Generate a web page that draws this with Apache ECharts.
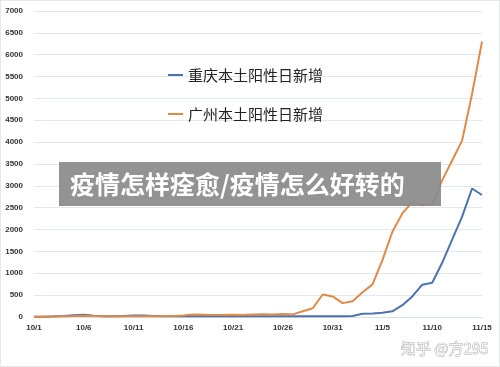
<!DOCTYPE html>
<html>
<head>
<meta charset="utf-8">
<script src="https://cdn.jsdelivr.net/npm/echarts@6/dist/echarts.min.js"></script>
<style>
html,body{margin:0;padding:0;background:#fff;}
#c{width:500px;height:367px;box-sizing:border-box;border:1px solid #e4e8ea;}
</style>
</head>
<body>
<div id="c"></div>
<script>
const categories = (function(){
  const d = [];
  for (let i = 1; i <= 31; i++) d.push('10/' + i);
  for (let i = 1; i <= 15; i++) d.push('11/' + i);
  return d;
})();
const seriesNames = ['重庆本土阳性日新增', '广州本土阳性日新增'];
const chongqing = [5,8,15,25,40,50,30,15,15,25,35,35,25,15,15,15,20,20,18,18,15,15,18,20,18,20,20,18,18,15,15,20,25,75,80,95,130,270,470,740,785,1240,1770,2295,2940,2790];
const guangzhou = [5,8,12,18,22,30,25,20,18,15,18,20,20,22,25,35,55,50,45,45,50,48,60,65,60,70,60,130,200,515,470,317,362,566,747,1300,1950,2370,2630,2555,2590,3125,3580,4035,5100,6300];
const yTicks = {min:0, max:7000, interval:500};
const titleText = '疫情怎样痊愈/疫情怎么好转的';
const watermark = '知乎 @方295';

const chart = echarts.init(document.getElementById('c'));
chart.setOption({
  animation:false,
  backgroundColor:'#fff',
  grid:{left:33, right:17, top:10, bottom:49, containLabel:false},
  legend:{
    orient:'vertical', left:167, top:65, itemGap:21, padding:0,
    itemWidth:15, itemHeight:2, icon:'rect',
    textStyle:{fontSize:15, color:'#222', lineHeight:18, fontFamily:'Noto Sans CJK SC'},
    data:seriesNames
  },
  xAxis:{
    type:'category', data:categories, boundaryGap:false,
    axisLine:{show:true, lineStyle:{color:'#d9dfe3'}},
    axisTick:{show:false},
    axisLabel:{interval:4, fontSize:8, fontWeight:'bold', color:'#333', margin:7, fontFamily:'Liberation Sans'},
    splitLine:{show:false}
  },
  yAxis:{
    type:'value', min:yTicks.min, max:yTicks.max, interval:yTicks.interval,
    axisLine:{show:false}, axisTick:{show:false},
    axisLabel:{fontSize:8, fontWeight:'bold', color:'#333', margin:11, fontFamily:'Liberation Sans', formatter:function(v){return String(v);}},
    splitLine:{lineStyle:{color:'#e3e8eb', width:1}}
  },
  series:[
    {name:seriesNames[0], type:'line', data:chongqing, symbol:'none', lineStyle:{width:2, color:'#4d72ad'}, itemStyle:{color:'#4d72ad'}},
    {name:seriesNames[1], type:'line', data:guangzhou, symbol:'none', lineStyle:{width:2, color:'#df8a48'}, itemStyle:{color:'#df8a48'}}
  ],
  graphic:[
    {type:'rect', shape:{x:58, y:161, width:382, height:44}, style:{fill:'rgba(138,138,138,0.92)'}, z:100},
    {type:'text', x:69, y:183, style:{text:titleText, fill:'#fff', font:'bold 25px "Noto Sans CJK SC"', textVerticalAlign:'middle'}, z:101},
    {type:'text', x:400, y:347, style:{text:watermark, fill:'#f2f2f2', stroke:'#aaaaaa', lineWidth:0.8, font:'15px "Noto Sans CJK SC"', textVerticalAlign:'middle'}, z:101}
  ]
});
</script>
</body>
</html>
